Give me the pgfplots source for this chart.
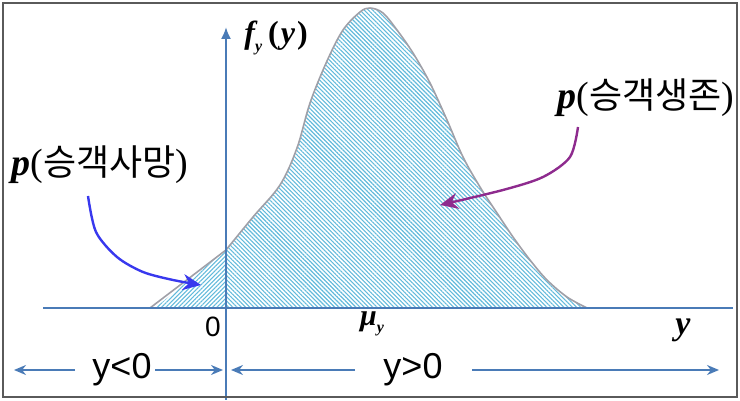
\documentclass[border=0pt]{standalone}
\usepackage{pgfplots}
\pgfplotsset{compat=1.18}
\usepackage{fontspec}
\setmainfont{Liberation Sans}
\newfontfamily\tnr{Liberation Serif}
\newfontfamily\kr{Noto Sans CJK KR}
\usetikzlibrary{patterns.meta,arrows.meta}
\definecolor{axblue}{HTML}{4A7BB7}
\definecolor{hatch}{HTML}{62BADB}
\definecolor{arrblue}{HTML}{3838EE}
\definecolor{arrpurple}{HTML}{8E2B8E}
\definecolor{edgegray}{HTML}{A0A0A8}
\definecolor{framegray}{HTML}{5A5A5A}
\begin{document}
\begin{tikzpicture}
\begin{axis}[width=370pt,height=200pt,scale only axis,
  xmin=0,xmax=740,ymin=-92,ymax=308,hide axis,clip=false]
\path (axis cs:0,-92) rectangle (axis cs:740,308);
% hatched areas
\addplot[draw=none,pattern={Lines[angle=45,distance=1.5pt,line width=0.55pt]},pattern color=hatch]
  coordinates {(155,0) (226,58)} \closedcycle;
\addplot[draw=none,smooth,tension=0.55,pattern={Lines[angle=-45,distance=1.5pt,line width=0.55pt]},pattern color=hatch]
  coordinates {(226,58) (253,91) (280,123) (297,160) (310,205) (327,247) (343,278) (360,296) (370,300) (383,295) (397,278) (413,255) (430,225) (447,188) (463,151) (480,121) (497,95) (513,71) (530,48) (547,28) (567,11) (587,0)} \closedcycle;
% curve outline
\addplot[edgegray,line width=0.8pt,no marks] coordinates {(150,0) (226,58)};
\addplot[edgegray,line width=0.8pt,smooth,tension=0.55,no marks]
  coordinates {(226,58) (253,91) (280,123) (297,160) (310,205) (327,247) (343,278) (360,296) (370,300) (383,295) (397,278) (413,255) (430,225) (447,188) (463,151) (480,121) (497,95) (513,71) (530,48) (547,28) (567,11) (587,0)};
% axes
\addplot[axblue,line width=1pt,no marks] coordinates {(43,0) (733,0)};
\addplot[axblue,line width=1pt,no marks,-{Latex[length=6pt,width=5pt]}] coordinates {(226,-92) (226,281)};
% bottom arrows
\addplot[axblue,line width=0.9pt,no marks,-{Stealth[length=6pt,width=5pt]}] coordinates {(75,-62) (14,-62)};
\addplot[axblue,line width=0.9pt,no marks,-{Stealth[length=6pt,width=5pt]}] coordinates {(155,-62) (223,-62)};
\addplot[axblue,line width=0.9pt,no marks,-{Stealth[length=6pt,width=5pt]}] coordinates {(355,-62) (231,-62)};
\addplot[axblue,line width=0.9pt,no marks,-{Stealth[length=6pt,width=5pt]}] coordinates {(472,-62) (719,-62)};
% callout arrows
\addplot[arrblue,line width=1.2pt,smooth,no marks,-{Stealth[length=9pt,width=8pt]}]
  coordinates {(88,112) (96,76) (117,51) (143,36) (173,28) (201,23)};
\addplot[arrpurple,line width=1.2pt,smooth,no marks,-{Stealth[length=9pt,width=8pt]}]
  coordinates {(578,181) (570,151) (543,131) (503,118) (440,103)};
% frame
\draw[framegray,line width=1pt] (axis cs:3,-89) rectangle (axis cs:737,305);
% labels
\node[anchor=west,inner sep=0pt] at (axis cs:244,270)
  {\fontsize{16}{18}\selectfont\tnr\bfseries\itshape f\raisebox{-0.5ex}{\fontsize{8}{9}\selectfont y}\kern3pt\upshape(\kern1pt\itshape y\kern1pt\upshape)};
\node[anchor=west,inner sep=0pt] at (axis cs:11,143)
  {\fontsize{19}{22}\selectfont{\tnr\bfseries\itshape p}{\tnr(}{\kr\fontsize{18}{22}\selectfont 승객사망}{\tnr)}};
\node[anchor=east,inner sep=0pt] at (axis cs:735,210)
  {\fontsize{19}{22}\selectfont{\tnr\bfseries\itshape p}{\tnr(}{\kr\fontsize{18}{22}\selectfont 승객생존}{\tnr)}};
\node[inner sep=0pt] at (axis cs:213,-19) {\fontsize{14}{16}\selectfont 0};
\node[inner sep=0pt] at (axis cs:372,-16)
  {\fontsize{15}{17}\selectfont\tnr\bfseries\itshape μ\raisebox{-0.5ex}{\fontsize{8}{9}\selectfont y}};
\node[inner sep=0pt] at (axis cs:683,-22) {\fontsize{17}{19}\selectfont\tnr\bfseries\itshape y};
\node[inner sep=0pt] at (axis cs:122,-62) {\fontsize{18}{21}\selectfont y<0};
\node[inner sep=0pt] at (axis cs:413,-62) {\fontsize{18}{21}\selectfont y>0};
\end{axis}
\end{tikzpicture}
\end{document}
